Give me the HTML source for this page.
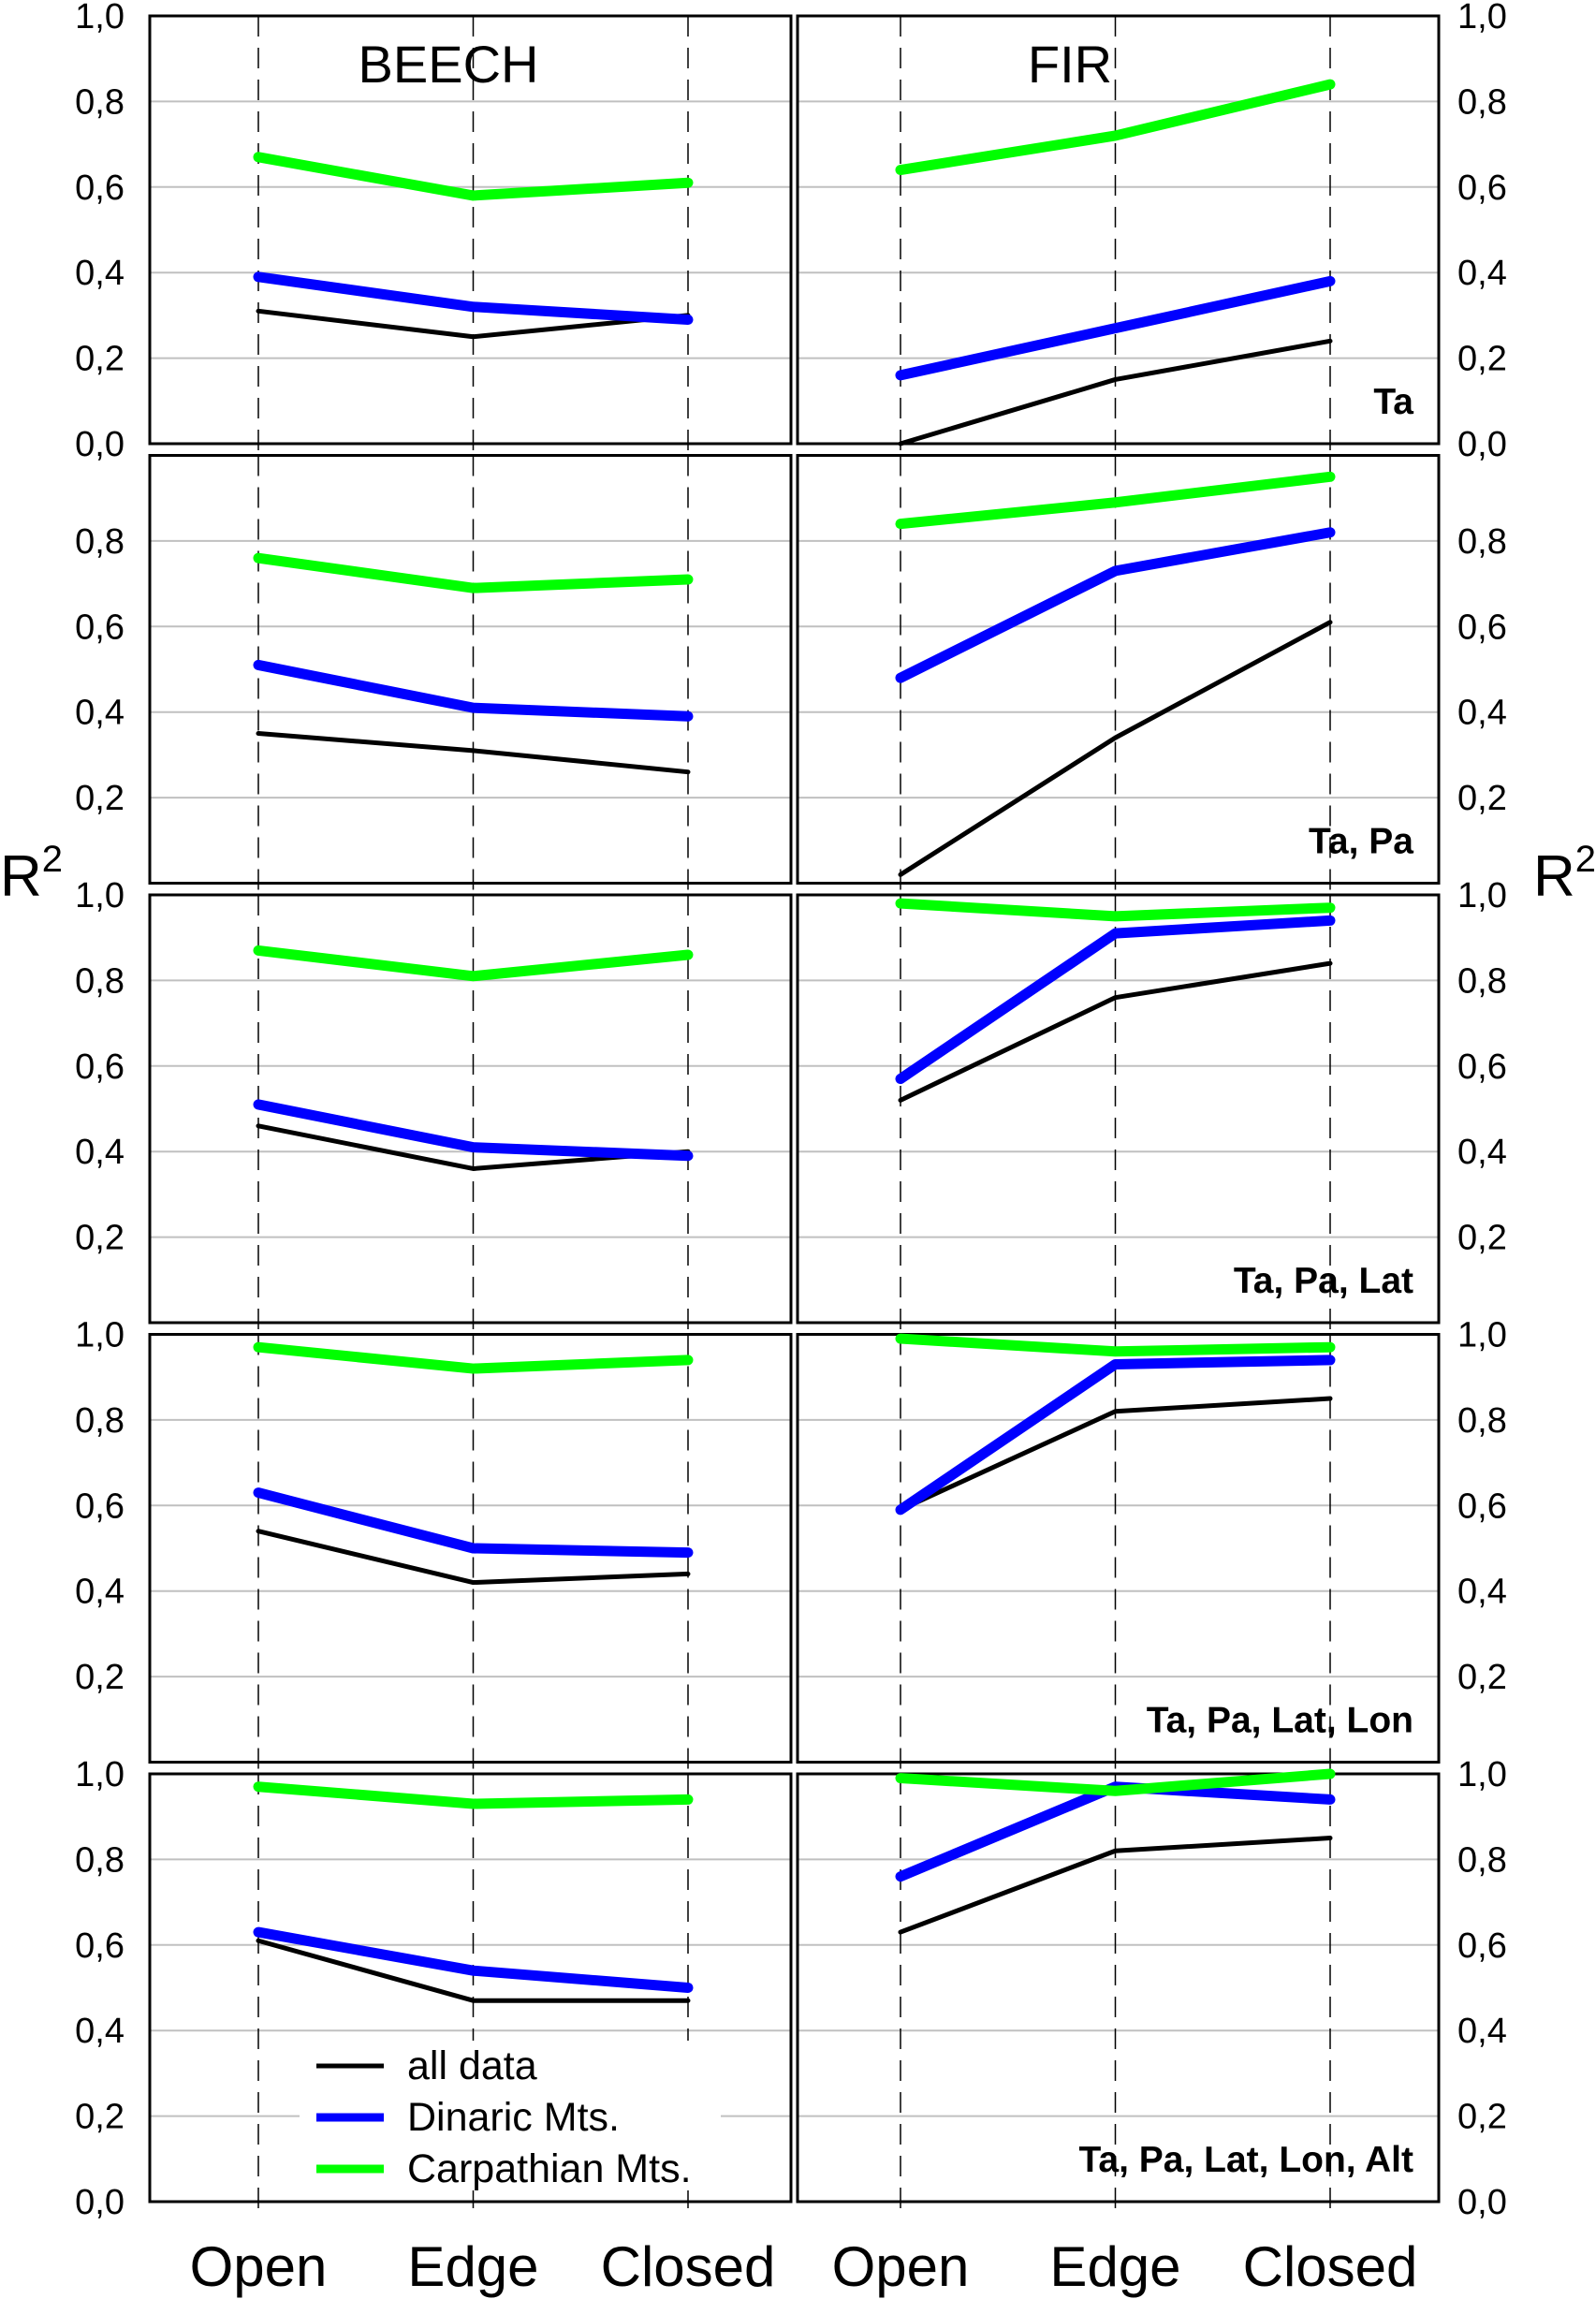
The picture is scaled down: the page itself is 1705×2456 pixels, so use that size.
<!DOCTYPE html>
<html><head><meta charset="utf-8"><style>
html,body{margin:0;padding:0;background:#fff;}
svg{display:block;font-family:"Liberation Sans Narrow","Liberation Sans",sans-serif;}
</style></head><body>
<svg id="chart" width="1705" height="2456" viewBox="0 0 1705 2456" xmlns="http://www.w3.org/2000/svg"></svg>
<script>
const categories = ["Open","Edge","Closed"];
const species = ["BEECH","FIR"];
const panelLabels = ["Ta","Ta, Pa","Ta, Pa, Lat","Ta, Pa, Lat, Lon","Ta, Pa, Lat, Lon, Alt"];
const seriesNames = ["all data","Dinaric Mts.","Carpathian Mts."];
const yTicks = [0,0.2,0.4,0.6,0.8,1.0];
const tickText = ["0,0","0,2","0,4","0,6","0,8","1,0"];
const allData = [
 [[0.31,0.25,0.30],[0.00,0.15,0.24]],
 [[0.35,0.31,0.26],[0.02,0.34,0.61]],
 [[0.46,0.36,0.40],[0.52,0.76,0.84]],
 [[0.54,0.42,0.44],[0.59,0.82,0.85]],
 [[0.61,0.47,0.47],[0.63,0.82,0.85]]
];
const dinaric = [
 [[0.39,0.32,0.29],[0.16,0.27,0.38]],
 [[0.51,0.41,0.39],[0.48,0.73,0.82]],
 [[0.51,0.41,0.39],[0.57,0.91,0.94]],
 [[0.63,0.50,0.49],[0.59,0.93,0.94]],
 [[0.63,0.54,0.50],[0.76,0.97,0.94]]
];
const carpathian = [
 [[0.67,0.58,0.61],[0.64,0.72,0.84]],
 [[0.76,0.69,0.71],[0.84,0.89,0.95]],
 [[0.87,0.81,0.86],[0.98,0.95,0.97]],
 [[0.97,0.92,0.94],[0.99,0.96,0.97]],
 [[0.97,0.93,0.94],[0.99,0.96,1.00]]
];
const NS="http://www.w3.org/2000/svg";
const svg=document.getElementById('chart');
function mk(tag,attrs,parent){const e=document.createElementNS(NS,tag);for(const k in attrs)e.setAttribute(k,attrs[k]);(parent||svg).appendChild(e);return e;}
const panelX=[160,852], panelW=685, rowTop0=17, rowStep=469.5, rowH=457;
const catOff=[116,110];
function xScale(p,i){return panelX[p]+catOff[p]+i*229.5;}
function yScale(r,v){return rowTop0+r*rowStep+rowH*(1-v);}
const leftLabelsShow=[[1,1,1,1,1,1],[0,1,1,1,1,0],[0,1,1,1,1,1],[0,1,1,1,1,1],[1,1,1,1,1,1]];
for(let r=0;r<5;r++){
  const top=rowTop0+r*rowStep;
  for(let p=0;p<2;p++){
    const g=mk('g',{});
    
    
    const x0=panelX[p];
    yTicks.forEach((t,k)=>{ if(t>0&&t<1){const gl=mk('line',{x1:x0,x2:x0+panelW,y1:yScale(r,t),y2:yScale(r,t),stroke:'#c0c0c0','stroke-width':2},g);
      }});
    categories.forEach((c,i)=>{const l=mk('line',{x1:xScale(p,i),x2:xScale(p,i),y1:top,y2:top+rowH+12,stroke:'#000','stroke-width':1.5,'stroke-dasharray':'22,12'},g);
      });
    const box=mk('rect',{x:x0,y:top,width:panelW,height:rowH,fill:'none',stroke:'#000','stroke-width':3},g);
    
    if(r===4&&p===0){
      const lb=mk('rect',{x:320,y:2180,width:450,height:160,fill:'#fff'},g);
      
    }
    const sets=[[allData,'#000',5],[dinaric,'#0000ff',11],[carpathian,'#00ff00',11]];
    sets.forEach((s,si)=>{
      const pts=s[0][r][p].map((v,i)=>xScale(p,i)+','+yScale(r,v)).join(' ');
      const pl=mk('polyline',{points:pts,fill:'none',stroke:s[1],'stroke-width':s[2],'stroke-linecap':'round','stroke-linejoin':'round'},g);
      
      
    });
    if(p===1){
      const an=mk('text',{x:x0+panelW-27,y:top+rowH-32,'text-anchor':'end','font-size':39,'font-weight':'bold',fill:'#000'},g);
      an.textContent=panelLabels[r];
      
      
    }
  }
  yTicks.forEach((t,k)=>{
    if(!leftLabelsShow[r][k]) return;
    const y=yScale(r,t);
    const tl=mk('text',{x:133,y:y+13,'text-anchor':'end','font-size':38,fill:'#000'});
    tl.textContent=tickText[k];
    
    
    const tr=mk('text',{x:1557,y:y+13,'text-anchor':'start','font-size':38,fill:'#000'});
    tr.textContent=tickText[k];
    
    
  });
}
[[479,'BEECH'],[1143,'FIR']].forEach(([x,t])=>{const e=mk('text',{x:x,y:88,'text-anchor':'middle','font-size':56,fill:'#000'});e.textContent=t;
  });
for(let p=0;p<2;p++)categories.forEach((c,i)=>{const e=mk('text',{x:xScale(p,i),y:2442,'text-anchor':'middle','font-size':60,fill:'#000'});e.textContent=c;
  });
[[0,'start'],[1705,'end']].forEach(([x,a])=>{const e=mk('text',{x:x,y:957,'text-anchor':a,'font-size':62,fill:'#000'});
  
  e.innerHTML='R<tspan dy="-26" font-size="40">2</tspan>';});
const legColors=['#000','#0000ff','#00ff00'], legW=[5,9,9];
seriesNames.forEach((n,i)=>{const y=2207+i*55;
  const l=mk('line',{x1:338,x2:410,y1:y,y2:y,stroke:legColors[i],'stroke-width':legW[i]});
  
  const t=mk('text',{x:435,y:y+14,'font-size':43,fill:'#000'});t.textContent=n;
  });
</script>
</body></html>
